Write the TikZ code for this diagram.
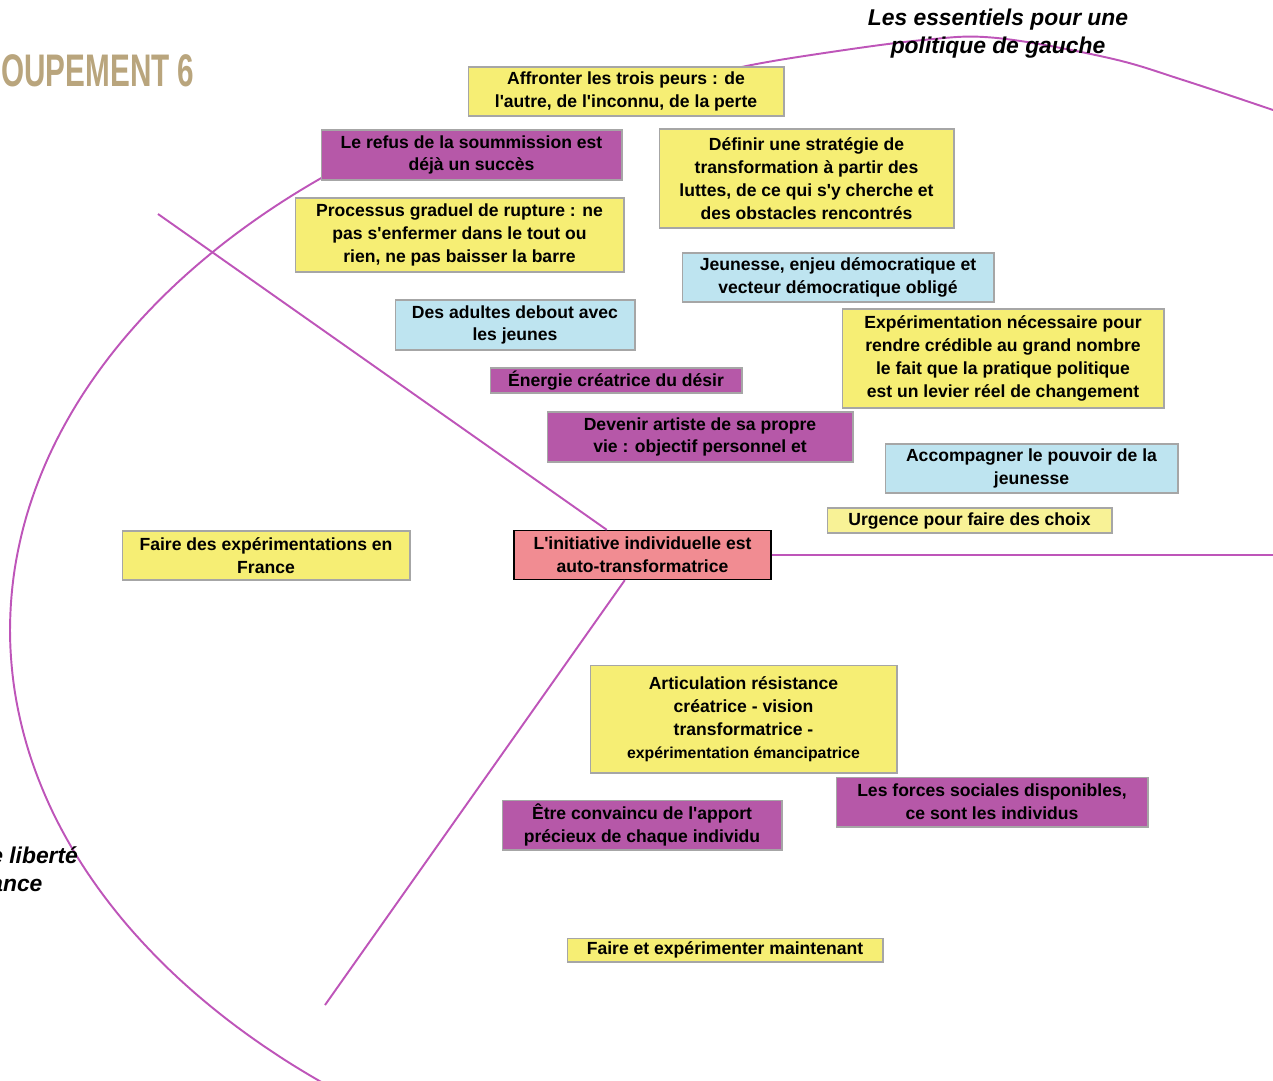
\documentclass[tikz,border=0pt]{standalone}
\usepackage{fontspec}
\setmainfont{Liberation Sans}
\newfontfamily\headfont[FakeStretch=0.65]{Liberation Sans}
\definecolor{boxyellow}{RGB}{246,238,116}
\definecolor{paleyellow}{RGB}{248,242,150}
\definecolor{boxpurple}{RGB}{182,88,168}
\definecolor{boxblue}{RGB}{190,228,240}
\definecolor{boxpink}{RGB}{241,140,146}
\definecolor{linkmag}{RGB}{190,85,185}
\definecolor{headtan}{RGB}{185,165,125}
\newcommand{\q}{\textquotesingle}
\tikzset{
        note/.style={draw=gray!70, line width=0.6pt, align=center, inner sep=1pt,
          font=\bfseries\fontsize{10}{13}\selectfont},
        yellowbox/.style={note, fill=boxyellow},
        paleybox/.style={note, fill=paleyellow},
        purplebox/.style={note, fill=boxpurple},
        bluebox/.style={note, fill=boxblue},
        redbox/.style={note, fill=boxpink, draw=black, line width=0.8pt},
        sized/.style 2 args={minimum width=#1cm, minimum height=#2cm},
        link/.style={draw=linkmag, line width=1.1pt},
        caption/.style={align=center, inner sep=0pt, font=\bfseries\itshape\fontsize{13}{16}\selectfont}
          }
\begin{document}
\begin{tikzpicture}[x=0.02cm, y=-0.02cm]
        \useasboundingbox (0,0) rectangle (1273,1080);
        % frame curve, both ends run under the top boxes
        \draw[link] plot[domain=130.5:232, samples=120] ({900+890*cos(\x)}, {630+595*sin(\x)});
        \draw[link] plot[smooth, tension=0.6] coordinates {(700,80) (737,68) (811,55) (923,40) (997,38) (1109,58) (1183,80) (1273,110)};
        % header and captions
        \node[anchor=west, inner sep=0pt, text=headtan, font=\headfont\bfseries\fontsize{26}{26}\selectfont] (groupe) at (1,71) {OUPEMENT 6};
        \node[caption] (essentiels) at (998,34) {Les essentiels pour une\\politique de gauche};
        \node[caption, anchor=north west, align=left] (liberte) at (-10,846) {e libert\'e\\ance};
        % boxes
        \node[yellowbox, sized={6.32}{0.98}] (affronter) at (626,91.5) {Affronter les trois peurs : de\\l\q autre, de l\q inconnu, de la perte};
        \node[purplebox, sized={6.02}{1.0}] (refus) at (471.5,155) {Le refus de la soummission est\\d\'ej\`a un succ\`es};
        \node[yellowbox, sized={5.9}{1.98}] (definir) at (806.5,178.5) {D\'efinir une strat\'egie de\\transformation \`a partir des\\luttes, de ce qui s\q y cherche et\\des obstacles rencontr\'es};
        \node[yellowbox, sized={6.58}{1.48}] (processus) at (459.5,235) {Processus graduel de rupture : ne\\pas s\q enfermer dans le tout ou\\rien, ne pas baisser la barre};
        \node[bluebox, sized={6.24}{0.98}] (jeunesse) at (838,277.5) {Jeunesse, enjeu d\'emocratique et\\vecteur d\'emocratique oblig\'e};
        \node[bluebox, sized={4.8}{1.0}] (adultes) at (515,325) {Des adultes debout avec\\les jeunes};
        \node[yellowbox, sized={6.44}{1.98}] (experim) at (1003,358.5) {Exp\'erimentation n\'ecessaire pour\\rendre cr\'edible au grand nombre\\le fait que la pratique politique\\est un levier r\'eel de changement};
        \node[purplebox, sized={5.04}{0.5}] (energie) at (616,380.5) {\'Energie cr\'eatrice du d\'esir};
        \node[purplebox, sized={6.12}{1.0}] (devenir) at (700,437) {Devenir artiste de sa propre\\vie : objectif personnel et};
        \node[bluebox, sized={5.86}{0.98}] (accomp) at (1031.5,468.5) {Accompagner le pouvoir de la\\jeunesse};
        \node[paleybox, sized={5.7}{0.5}] (urgence) at (969.5,520.5) {Urgence pour faire des choix};
        \node[yellowbox, sized={5.76}{0.98}] (france) at (266,555.5) {Faire des exp\'erimentations en\\France};
        \node[redbox, sized={5.14}{0.98}] (initiative) at (642.5,555) {L\q initiative individuelle est\\auto-transformatrice};
        \node[yellowbox, sized={6.14}{2.16}] (articul) at (743.5,719) {Articulation r\'esistance\\cr\'eatrice - vision\\transformatrice -\\{\fontsize{9}{13}\selectfont exp\'erimentation \'emancipatrice}};
        \node[purplebox, sized={6.24}{1.0}] (forces) at (992,802) {Les forces sociales disponibles,\\ce sont les individus};
        \node[purplebox, sized={5.6}{1.0}] (etre) at (642,825) {\^Etre convaincu de l\q apport\\pr\'ecieux de chaque individu};
        \node[yellowbox, sized={6.32}{0.48}] (maintenant) at (725,950) {Faire et exp\'erimenter maintenant};
        % spokes from the centre box
        \coordinate (nw) at (158,214);
        \coordinate (sw) at (325,1005);
        \coordinate (ea) at (1273,555);
        \draw[link] (initiative) -- (nw);
        \draw[link] (initiative) -- (sw);
        \draw[link] (initiative) -- (ea);
\end{tikzpicture}
\end{document}
